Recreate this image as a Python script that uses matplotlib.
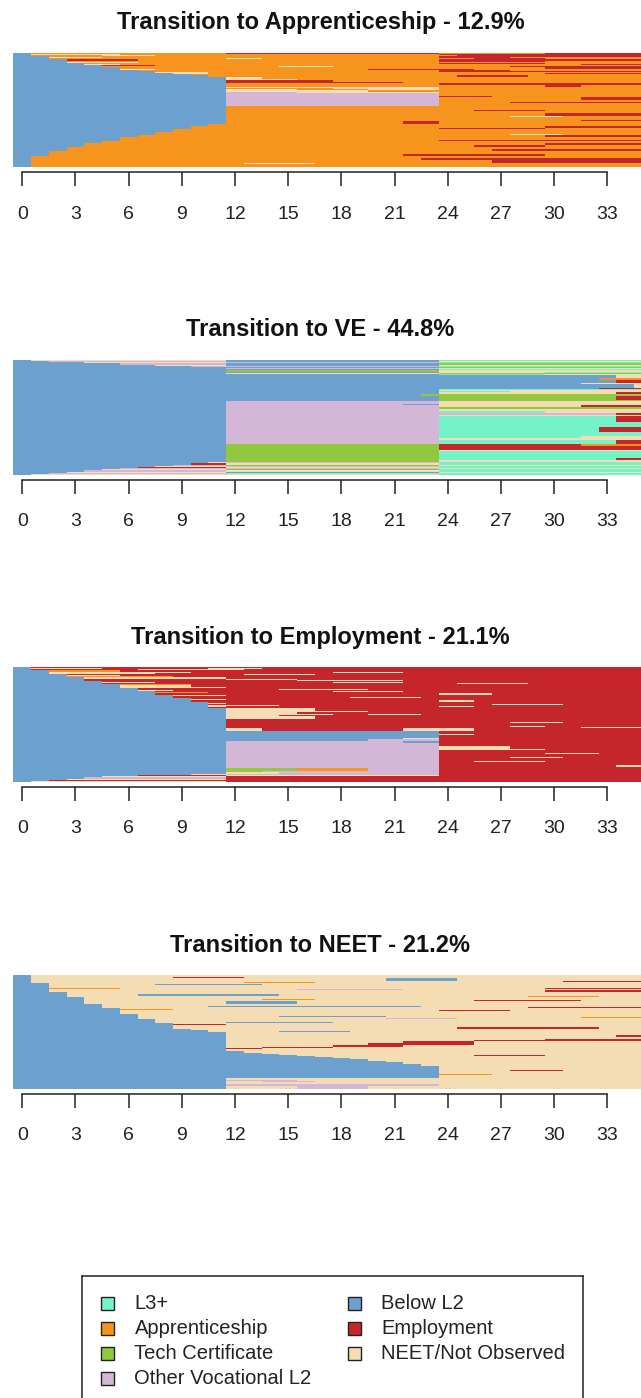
import matplotlib
matplotlib.use('Agg')
import matplotlib.pyplot as plt
from matplotlib.colors import ListedColormap
from matplotlib.patches import Rectangle
import numpy as np

plt.rcParams['font.family'] = ['Liberation Sans', 'DejaVu Sans']

# State codes, legend labels and colours
state_codes = ['L', 'A', 'T', 'O', 'B', 'E', 'N']
state_labels = ['L3+', 'Apprenticeship', 'Tech Certificate', 'Other Vocational L2',
                'Below L2', 'Employment', 'NEET/Not Observed']
state_colors = ['#74F2C8', '#F7941E', '#92C83E', '#D4B7D6',
                '#6CA0CE', '#C4262C', '#F4DDB2']

months = np.arange(36)
tick_months = list(range(0, 34, 3))

panel_titles = ['Transition to Apprenticeship - 12.9%',
                'Transition to VE - 44.8%',
                'Transition to Employment - 21.1%',
                'Transition to NEET - 21.2%']

# Sequences, top to bottom: (number of rows, run-length coded states per month)
appr_seqs = [
    (1, "B1 A11 E12 A6 E6"), (1, "B1 N5 A18 E12"), (1, "B1 A4 N3 A17 E11"),
    (1, "B2 A22 E12"), (1, "B2 N3 A19 E4 A8"), (1, "B2 A10 N2 A12 E4 A6"),
    (1, "B3 E4 A17 E12"), (1, "B3 A21 E6 A6"), (1, "B3 N4 A29"),
    (1, "B4 A20 E6 A6"), (1, "B4 N2 A26 E4"), (1, "B5 E3 A28"),
    (1, "B5 A10 N3 A10 E8"), (1, "B6 A24 E6"), (1, "B6 N2 A12 E6 A10"),
    (1, "B7 A17 E4 A8"), (1, "B8 A16 E12"), (1, "B8 N3 A25"),
    (1, "B9 N2 A19 E6"), (1, "B10 A26"), (1, "B11 A14 E4 A7"),
    (2, "B12 N2 A22"), (1, "B12 N4 A20"), (2, "B12 E6 A18"), (1, "B12 E10 A14"),
    (1, "B12 A12 E12"), (2, "B12 A18 E2 A4"),
    (1, "B12 N12 A12"), (1, "B12 A6 N6 A12"), (1, "B12 N4 A4 N4 A12"),
    (1, "B12 N8 A16"), (1, "B12 O4 N8 A12"),
    (3, "B12 O12 A12"), (1, "B12 O12 E3 A9"), (2, "B12 O12 A8 E4"),
    (2, "B12 O12 A12"), (1, "B12 O12 A4 E8"), (3, "B12 O12 A12"),
    (3, "B12 A24"), (1, "B12 A14 E4 A6"), (2, "B12 A24"), (2, "B12 A18 E6"),
    (1, "B12 A16 N3 A5"), (3, "B12 A24"), (1, "B12 A20 E4"), (2, "B12 A10 E2 A12"),
    (2, "B11 A25"), (2, "B10 A20 E6"), (1, "B10 A14 E6 A6"), (2, "B9 A27"),
    (2, "B8 A28"), (1, "B8 A20 N3 A5"), (2, "B7 A23 E6"), (2, "B6 A30"),
    (1, "B6 A18 E12"), (2, "B5 A31"), (2, "B4 A26 E6"), (1, "B4 A22 E4 A6"),
    (2, "B3 A33"), (2, "B3 A24 E9"), (2, "B2 A34"), (2, "B2 A20 E8 A6"),
    (2, "B1 A35"), (2, "B1 A22 E13"),
    (2, "B1 A26 E9"), (1, "B1 A12 N4 A19"), (3, "B1 A35"),
]

ve_seqs = [
    (1, "B1 N11 B12 L12"), (1, "B2 O10 B12 N12"), (1, "B4 N8 O12 L12"),
    (1, "B6 O6 B12 T12"), (1, "B8 N4 B12 N12"), (1, "B10 O2 O12 L12"),
    (1, "B24 T12"), (1, "B12 O12 N12"), (1, "B24 L12"), (1, "B12 T12 N12"),
    (1, "B24 N6 L6"), (1, "B12 N12 T12"), (1, "B24 L6 N6"),
    (3, "B34 N2"), (1, "B33 A3"), (3, "B34 E2"), (1, "B32 N4"),
    (3, "B35 N1"), (1, "B33 E3"), (1, "B24 L12"),
    (1, "B24 N12"), (1, "B24 L4 N8"), (2, "B24 N10 E2"), (1, "B23 T13"),
    (4, "B24 T10 E2"), (1, "B24 T12"),
    (2, "B12 O12 N12"), (1, "B12 O10 B2 N12"), (2, "B12 O12 N8 E4"),
    (2, "B12 O12 T12"), (1, "B12 O12 N12"),
    (2, "B12 O12 L6 N6"), (2, "B12 O22 E2"), (1, "B12 O12 N12"),
    (5, "B12 O12 L10 E2"), (4, "B12 O12 L12"), (5, "B12 O12 L9 E3"),
    (3, "B12 O12 L12"), (2, "B12 O12 L8 N4"),
    (2, "B12 O12 N12"), (3, "B12 O12 L10 E2"),
    (2, "B12 T12 E8 A4"), (3, "B12 T12 E12"), (1, "B12 T12 N12"),
    (6, "B12 T12 L12"), (2, "B12 T12 L10 E2"), (2, "B12 T12 N12"),
    (1, "B11 N1 O12 L12"), (1, "B10 E2 N12 L12"), (1, "B9 O3 T12 N12"),
    (1, "B8 N4 O12 L12"), (1, "B7 E5 N12 L12"), (1, "B6 O6 O12 N12"),
    (1, "B5 N7 T12 L12"), (1, "B4 O8 N12 L12"), (1, "B3 N9 B12 N12"),
    (1, "B2 O10 L24"), (1, "B1 N11 N12 L12"),
]

emp_seqs = [
    (1, "B1 E35"), (1, "B1 N4 E6 N3 E22"), (1, "B1 E6 N6 E23"),
    (1, "B2 A4 E30"), (1, "B2 N8 E8 N4 E14"), (1, "B2 N6 E28"),
    (1, "B3 E10 N4 E19"), (1, "B3 N3 E30"), (1, "B3 A6 E27"),
    (1, "B4 N8 E24"), (1, "B4 E8 N4 E20"), (1, "B4 E12 N6 E14"),
    (1, "B5 E31"), (1, "B5 N3 E10 N4 E14"), (1, "B5 E20 N4 E7"),
    (1, "B6 A4 E26"), (1, "B6 N4 E26"), (1, "B6 N6 E24"),
    (1, "B7 E29"), (1, "B7 E8 N5 E16"), (1, "B7 N2 E27"),
    (1, "B8 E10 N4 E14"), (1, "B8 A3 E25"), (1, "B8 E16 N3 E9"),
    (1, "B9 N3 E24"), (1, "B9 E27"), (1, "B9 E10 N4 E13"),
    (1, "B10 E26"), (1, "B10 N2 E24"), (1, "B10 E14 N2 E10"),
    (1, "B11 E25"), (1, "B11 N1 E24"), (1, "B11 E16 N4 E5"),
    (1, "B11 N4 E21"), (1, "B11 N1 E12 N2 E10"), (1, "B11 E25"),
    (2, "B12 N5 E19"), (1, "B12 N8 E16"), (2, "B12 N4 E20"),
    (1, "B12 N6 E2 N3 E13"), (1, "B12 N3 E21"), (2, "B12 N5 E19"),
    (3, "B12 E24"), (1, "B12 E16 N3 E5"), (2, "B12 E24"), (1, "B12 E16 N2 E6"),
    (1, "B12 E20 N4"),
    (3, "B12 N2 E8 N4 E10"),
    (2, "B24 E12"), (1, "B24 N2 E10"), (3, "B24 E12"), (1, "B22 N2 E12"),
    (1, "B20 O4 E12"),
    (2, "B12 O10 B2 E12"), (3, "B12 O12 E12"), (2, "B12 O12 N4 E8"),
    (1, "B12 O12 N6 E6"), (3, "B12 O12 E12"), (1, "B12 O12 E6 N3 E3"),
    (2, "B12 O12 E12"), (1, "B12 O12 E4 N3 E5"),
    (3, "B12 O12 E12"), (1, "B12 O12 E2 N4 E6"), (2, "B12 O12 E12"),
    (2, "B12 O12 E10 N2"),
    (1, "B12 O12 E12"), (2, "B12 T4 A4 O4 E12"), (1, "B12 T2 O10 E12"),
    (2, "B12 N3 O9 E12"),
    (1, "B10 N2 O12 E12"), (1, "B7 E5 N12 E12"), (1, "B5 N7 E24"),
    (1, "B4 O8 E24"), (1, "B3 N9 E24"), (1, "B2 E34"), (1, "B1 N11 E24"),
]

neet_seqs = [
    (2, "B1 N35"), (1, "B1 N8 E4 N23"), (2, "B1 N20 B4 N11"), (1, "B1 N30 E5"),
    (1, "B1 N12 A4 N19"),
    (1, "B2 N34"), (1, "B2 N6 B6 N22"), (2, "B2 N34"), (1, "B2 A4 N24 E6"),
    (1, "B2 N14 O6 N14"), (2, "B2 N28 E6"),
    (2, "B3 N33"), (1, "B3 N4 B8 N21"), (1, "B3 N26 A4 N3"),
    (2, "B4 N32"), (1, "B4 N10 A3 N19"), (1, "B4 N22 E6 N4"), (2, "B4 N8 B4 N20"),
    (2, "B5 N31"), (1, "B5 N6 B12 N13"), (1, "B5 N24 E7"),
    (1, "B6 N30"), (1, "B6 A3 N27"), (1, "B6 N18 E4 N8"), (2, "B6 N30"),
    (2, "B7 N29"), (1, "B7 N8 B6 N15"), (1, "B7 N25 A4"), (1, "B7 N14 O4 N11"),
    (2, "B8 N28"), (1, "B8 N4 B6 N18"), (1, "B9 N27"), (1, "B9 E3 N24"),
    (2, "B9 N27"), (1, "B9 N16 E8 N3"),
    (1, "B10 N26"), (1, "B11 N25"), (1, "B11 N4 B4 N17"),
    (3, "B12 N24"), (1, "B12 N22 E2"), (2, "B12 N24"), (1, "B12 N18 E6"),
    (1, "B12 N14 E10"), (2, "B12 N10 E4 N10"), (1, "B12 N8 E6 N10"),
    (2, "B12 N6 E4 N14"), (1, "B12 N2 E4 N18"), (1, "B12 E2 N22"), (2, "B12 N24"),
    (1, "B13 N23"), (1, "B14 N22"), (1, "B15 N21"), (1, "B16 N10 E4 N6"),
    (1, "B17 N19"), (1, "B18 N18"), (1, "B19 N17"), (1, "B20 N16"),
    (1, "B21 N15"), (2, "B22 N14"), (2, "B23 N13"),
    (3, "B24 N12"), (1, "B24 N4 E3 N5"), (3, "B24 N12"), (1, "B24 A3 N9"),
    (2, "B24 N12"),
    (2, "B12 N24"), (1, "B12 O4 N20"), (1, "B12 N2 O3 N19"), (2, "B12 N24"),
    (1, "B12 O12 N12"),
    (3, "B12 N4 O4 N16"),
]

panel_seqs = [appr_seqs, ve_seqs, emp_seqs, neet_seqs]


def expand(rows):
    # turn the run-length rows into a (sequences x months) matrix of state indices
    mat = []
    for n, seq in rows:
        line = []
        for tok in seq.split():
            line += [state_codes.index(tok[0])] * int(tok[1:])
        assert len(line) == len(months), seq
        mat += [line] * n
    return np.array(mat)


W, H = 641, 1398
fig = plt.figure(figsize=(W / 100, H / 100), dpi=100)


def px_axes(left, top, right, bottom):
    return fig.add_axes([left / W, 1 - bottom / H, (right - left) / W, (bottom - top) / H])


cmap = ListedColormap(state_colors)

panel_top = [52.5, 360, 667, 975]
panel_bottom = [167.3, 475, 782, 1089]
title_y = [22, 330, 637, 945]

for i in range(4):
    ax = px_axes(13.4, panel_top[i], 651.7, panel_bottom[i])
    mat = expand(panel_seqs[i])
    xedges = np.append(months - 0.5, months[-1] + 0.5)
    yedges = np.arange(len(mat) + 1)
    ax.pcolormesh(xedges, yedges, mat, cmap=cmap, vmin=-0.5, vmax=6.5,
                  shading='flat', antialiased=False, rasterized=True)
    ax.set_xlim(-0.5, 35.5)
    ax.set_ylim(len(mat), 0)

    for side in ['top', 'left', 'right']:
        ax.spines[side].set_visible(False)
    ax.spines['bottom'].set_position(('outward', 3.6))
    ax.spines['bottom'].set_bounds(0, 33)
    ax.spines['bottom'].set_linewidth(1.1)
    ax.spines['bottom'].set_color('#222222')
    ax.set_yticks([])
    ax.set_xticks(tick_months)
    ax.tick_params(axis='x', length=10, width=1.1, color='#222222',
                   labelsize=14, pad=14, labelcolor='#222222')

    fig.text(0.5, 1 - title_y[i] / H, panel_titles[i], ha='center', va='center',
             fontsize=17, fontweight='bold', color='#111111')

# Legend box (its lower edge runs past the bottom of the figure),
# two columns filled top to bottom
box_left, box_top, box_right, box_bottom = 82, 1276, 583, 1406
lax = px_axes(box_left, box_top, box_right, box_bottom)
lax.set_xlim(box_left, box_right)
lax.set_ylim(box_bottom, box_top)
lax.set_xticks([])
lax.set_yticks([])
for s in lax.spines.values():
    s.set_linewidth(1.1)
    s.set_color('#222222')

row_y = [1303.5, 1328.5, 1353.5, 1378.5]
col_marker_x = [107.5, 354.5]
col_text_x = [134.5, 381.5]
for k, (lab, col) in enumerate(zip(state_labels, state_colors)):
    c, r = divmod(k, 4)
    lax.add_patch(Rectangle((col_marker_x[c] - 6.5, row_y[r] - 6.5), 13, 13,
                            facecolor=col, edgecolor='#222222', linewidth=1.0))
    lax.text(col_text_x[c], row_y[r], lab, ha='left', va='center',
             fontsize=14.5, color='#222222')

fig.savefig('out.png', dpi=100)
